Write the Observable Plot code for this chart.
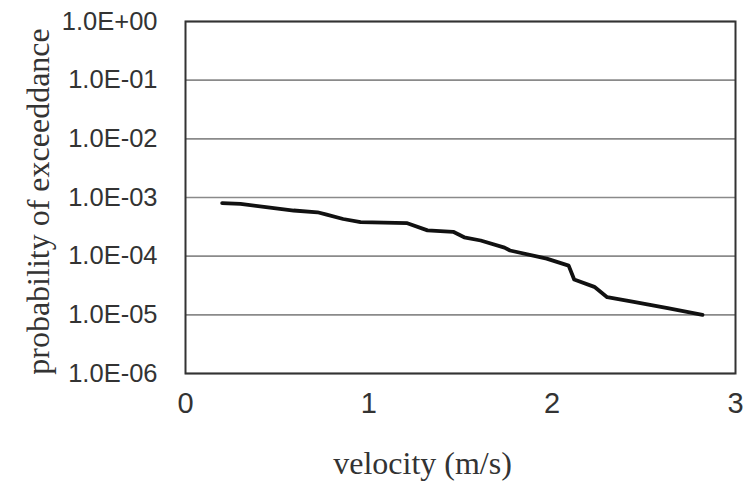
<!DOCTYPE html>
<html>
<head>
<meta charset="utf-8">
<script src="https://cdn.jsdelivr.net/npm/d3@7"></script>
<script src="https://cdn.jsdelivr.net/npm/@observablehq/plot@0.6"></script>
<style>
  html, body { margin: 0; padding: 0; background: #fff; }
</style>
</head>
<body>
<div id="chart"></div>
<script>
const velocity = [0.20, 0.30, 0.45, 0.59, 0.72, 0.77, 0.86, 0.955, 1.21, 1.32, 1.46, 1.52, 1.61, 1.74, 1.77, 1.97, 2.09, 2.12, 2.23, 2.30, 2.445, 2.63, 2.82];
const probability = [8.0e-4, 7.8e-4, 6.8e-4, 6.0e-4, 5.6e-4, 5.1e-4, 4.3e-4, 3.8e-4, 3.65e-4, 2.75e-4, 2.6e-4, 2.1e-4, 1.85e-4, 1.4e-4, 1.25e-4, 9.1e-5, 6.9e-5, 4.0e-5, 3.0e-5, 2.0e-5, 1.67e-5, 1.3e-5, 1.0e-5];
const yTicks = [1e0, 1e-1, 1e-2, 1e-3, 1e-4, 1e-5, 1e-6];
const xTicks = [0, 1, 2, 3];
const xTitle = "velocity (m/s)";
const yTitle = "probability of exceeddance";

const data = velocity.map((v, i) => ({v, p: probability[i]}));
const fmtE = d => {
  const e = Math.round(Math.log10(d));
  return "1.0E" + (e < 0 ? "-" : "+") + String(Math.abs(e)).padStart(2, "0");
};

const chart = Plot.plot({
  width: 748,
  height: 483,
  marginLeft: 185,
  marginRight: 13,
  marginTop: 21,
  marginBottom: 110,
  style: {background: "#fff", color: "#222"},
  x: {domain: [0, 3]},
  y: {type: "log", domain: [1e-6, 1]},
  marks: [
    Plot.gridY(yTicks, {stroke: "#8a8a8a", strokeOpacity: 1, strokeWidth: 1.6}),
    Plot.frame({stroke: "#333", strokeWidth: 2}),
    Plot.axisY(yTicks, {tickSize: 0, tickPadding: 28, tickFormat: fmtE, label: null,
      fontSize: 25.5, fontFamily: "Liberation Sans, sans-serif", fill: "#333"}),
    Plot.axisX(xTicks, {tickSize: 0, tickPadding: 19, tickFormat: d => String(d), label: null,
      fontSize: 29, fontFamily: "Liberation Sans, sans-serif", fill: "#333"}),
    Plot.line(data, {x: "v", y: "p", stroke: "#111", strokeWidth: 3.8, strokeLinejoin: "round", strokeLinecap: "round"}),
    Plot.text([xTitle], {text: d => d, frameAnchor: "bottom", textAnchor: "middle", lineAnchor: "middle",
      dx: -38, dy: 90, fontSize: 32, fontFamily: "Liberation Serif, serif", fill: "#333"}),
    Plot.text([yTitle], {text: d => d, frameAnchor: "left", textAnchor: "middle", lineAnchor: "middle",
      dx: -147, dy: 4, rotate: -90, fontSize: 32, fontFamily: "Liberation Serif, serif", fill: "#333"})
  ]
});
document.getElementById("chart").appendChild(chart);
</script>
</body>
</html>
